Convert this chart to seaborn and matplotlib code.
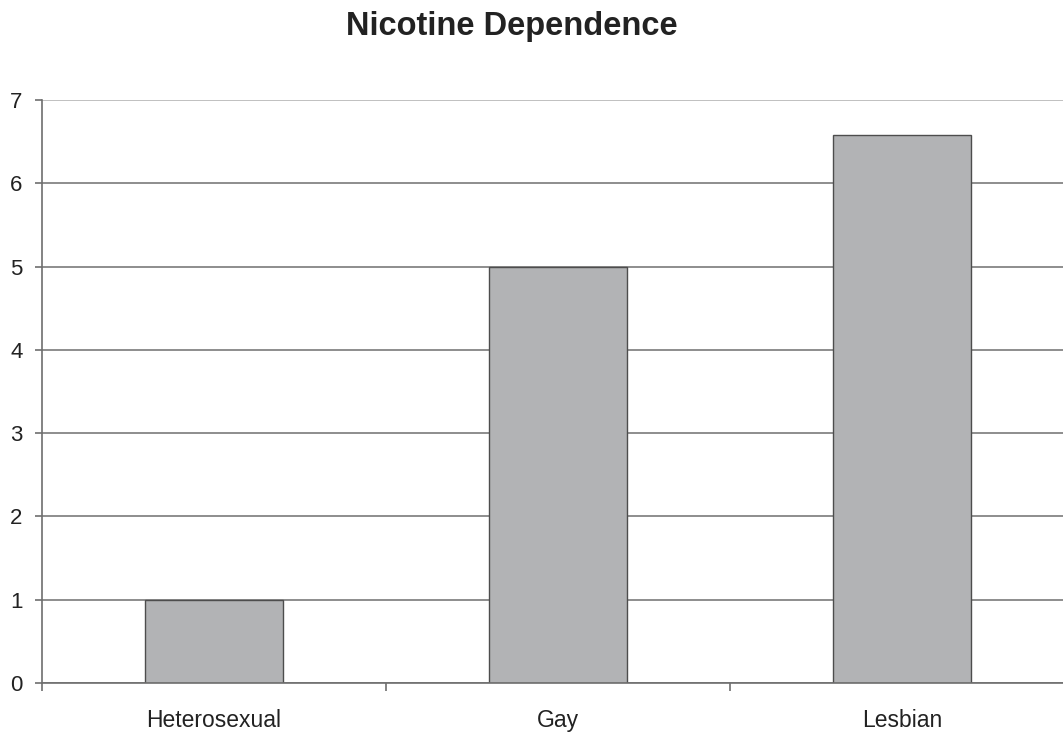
import matplotlib
matplotlib.use("Agg")
import matplotlib.pyplot as plt
from matplotlib.ticker import FixedLocator
import seaborn as sns
import pandas as pd

categories = ["Heterosexual", "Gay", "Lesbian"]
values = [1.0, 5.0, 6.58]
y_ticks = [0, 1, 2, 3, 4, 5, 6, 7]
title = "Nicotine Dependence"

sns.set_theme(style="white")
plt.rcParams["font.family"] = ["Liberation Sans", "DejaVu Sans"]

df = pd.DataFrame({"group": categories, "value": values})

fig = plt.figure(figsize=(10.63, 7.33), dpi=100)
ax = fig.add_axes([42 / 1063, 50 / 733, 1032 / 1063, 583 / 733])

ax.set_axisbelow(True)
ax.yaxis.grid(True, color="#7a7a7a", linewidth=1.2)

sns.barplot(data=df, x="group", y="value", ax=ax, color="#b2b3b5",
            edgecolor="#4d4d4d", linewidth=1.0, width=0.4, saturation=1)

ax.set_xlim(-0.5, 2.5)
ax.set_ylim(0, 7)
ax.set_yticks(y_ticks)
ax.set_xlabel("")
ax.set_ylabel("")

# the topmost gridline is drawn a little lighter
ax.get_ygridlines()[-1].set_color("#b5b5b5")

for side in ("top", "right"):
    ax.spines[side].set_visible(False)
for side in ("left", "bottom"):
    ax.spines[side].set_color("#6e6e6e")
    ax.spines[side].set_linewidth(1.2)

ax.tick_params(axis="y", which="major", length=5, width=1.2, color="#6e6e6e",
               pad=9, labelsize=16, labelcolor="#222222", left=True)
ax.tick_params(axis="x", which="major", length=0, pad=18.5, labelsize=16.5,
               labelcolor="#222222")
ax.xaxis.set_minor_locator(FixedLocator([-0.5, 0.5, 1.5, 2.5]))
ax.tick_params(axis="x", which="minor", length=6, width=1.2, color="#6e6e6e",
               bottom=True)

fig.suptitle(title, fontsize=23.5, fontweight="bold", color="#222222",
             x=512 / 1063, y=1 - 11 / 733, va="top")

fig.savefig("out.png", dpi=100, facecolor="white")
